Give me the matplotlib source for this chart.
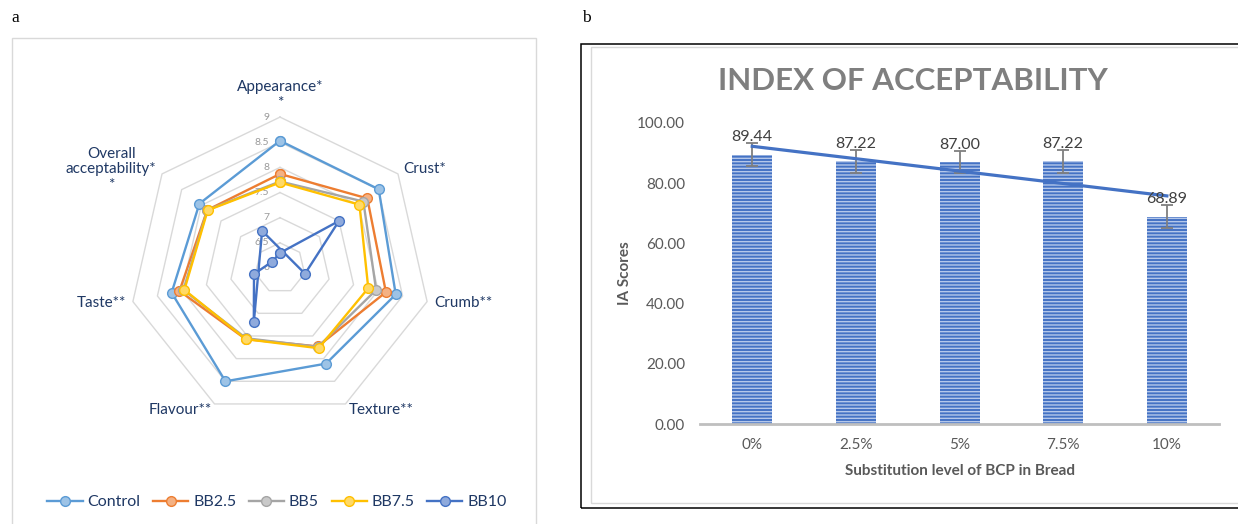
import numpy as np
import matplotlib
matplotlib.use("Agg")
import matplotlib.pyplot as plt
from matplotlib.patches import Rectangle
from matplotlib.colors import to_rgb

plt.rcParams["font.family"] = ["Lato", "DejaVu Sans"]
plt.rcParams["hatch.linewidth"] = 1.0

# ── Sensory scores (radar, panel a) ────────────────────────────────────────────
attributes = ["Appearance*\n*", "Crust*", "Crumb**", "Texture**",
              "Flavour**", "Taste**", "Overall\nacceptability*\n*"]
control = [8.53, 8.51, 8.36, 8.11, 8.50, 8.21, 8.05]
bb2_5   = [7.87, 8.22, 8.16, 7.73, 7.57, 8.05, 7.85]
bb5     = [7.72, 8.12, 7.96, 7.74, 7.55, 7.97, 7.85]
bb7_5   = [7.70, 8.02, 7.80, 7.77, 7.57, 7.95, 7.84]
bb10    = [6.30, 7.50, 6.51, 5.18, 7.20, 6.53, 6.20]
series_names  = ["Control", "BB2.5", "BB5", "BB7.5", "BB10"]
series_colors = ["#5B9BD5", "#ED7D31", "#A5A5A5", "#FFC000", "#4472C4"]
ring_ticks = [6, 6.5, 7, 7.5, 8, 8.5, 9]

# ── Index of acceptability (bars, panel b) ─────────────────────────────────────
levels    = ["0%", "2.5%", "5%", "7.5%", "10%"]
ia_scores = [89.44, 87.22, 87.00, 87.22, 68.89]
ia_err    = [3.8, 3.8, 3.7, 3.8, 3.8]

# ── Layout helpers (pixel -> figure fraction) ─────────────────────────────────
W, H, DPI = 1238, 524, 100
def fx(px): return px / W
def fy(py): return 1 - py / H

fig = plt.figure(figsize=(W / DPI, H / DPI), dpi=DPI)

NAVY = "#1F3864"
R_MIN = ring_ticks[0]
S = 50.3                      # px per score unit on the radar
CX, CY = 280, 268             # radar centre in px


def lighten(c, amt=0.4):
    r, g, b = to_rgb(c)
    return (r + (1 - r) * amt, g + (1 - g) * amt, b + (1 - b) * amt)


# ── Panel a: radar drawn on plain axes (values below the minimum fold through) ─
x0, x1, y0, y1 = 20, 540, 40, 480
ax_r = fig.add_axes([fx(x0), fy(y1), (x1 - x0) / W, (y1 - y0) / H])
ax_r.set_xlim((x0 - CX) / S, (x1 - CX) / S)
ax_r.set_ylim((CY - y1) / S, (CY - y0) / S)
ax_r.axis("off")

n = len(attributes)
theta = 2 * np.pi * np.arange(n) / n
sin_t, cos_t = np.sin(theta), np.cos(theta)

for t in ring_ticks[1:]:
    r = t - R_MIN
    ax_r.plot(np.append(r * sin_t, r * sin_t[0]), np.append(r * cos_t, r * cos_t[0]),
              color="#D9D9D9", lw=1.0, zorder=1)
for t in ring_ticks:
    ax_r.text(-11 / S, t - R_MIN, f"{t:g}", ha="right", va="center",
              fontsize=7.5, color="#9A9A9A", zorder=2)

for vals, name, col in zip([control, bb2_5, bb5, bb7_5, bb10], series_names, series_colors):
    r = np.array(vals) - R_MIN
    xs, ys = r * sin_t, r * cos_t
    ax_r.plot(np.append(xs, xs[0]), np.append(ys, ys[0]), color=col, lw=1.7,
              marker="o", ms=7, mfc=lighten(col), mec=col, mew=1.0,
              label=name, zorder=3)

lab_r = 158 / S
for lab, s, c in zip(attributes, sin_t, cos_t):
    if abs(s) < 0.1:
        ha, va = "center", "bottom"
    else:
        ha, va = ("left" if s > 0 else "right"), "center"
    ax_r.text(lab_r * s, lab_r * c, lab, ha=ha, va=va, multialignment="center",
              fontsize=11, color=NAVY, linespacing=1.15)

ax_r.legend(loc="center", bbox_to_anchor=(fx(277), fy(502)), bbox_transform=fig.transFigure,
            ncol=5, frameon=False, fontsize=11.5, handlelength=2.2, handletextpad=0.3,
            columnspacing=0.8, labelcolor=NAVY)

# ── Panel b: bars + error bars + linear trend ──────────────────────────────────
bx0, bx1, by0, by1 = 700.4, 1218.7, 122.7, 424.3
ax_b = fig.add_axes([fx(bx0), fy(by1), (bx1 - bx0) / W, (by1 - by0) / H])
idx = np.arange(len(levels))

ax_b.bar(idx, ia_scores, width=0.385, color="#4472C4", edgecolor="#B4C7EA",
         hatch="-----", linewidth=0, zorder=2)
ax_b.errorbar(idx, ia_scores, yerr=ia_err, fmt="none", ecolor="#7F7F7F",
              elinewidth=1.3, capsize=4, capthick=1.3, zorder=3)

coef = np.polyfit(idx + 1, ia_scores, 1)
ax_b.plot(idx, np.polyval(coef, idx + 1), color="#4472C4", lw=2.3, zorder=4)

for xi, v in zip(idx, ia_scores):
    ax_b.annotate(f"{v:.2f}", (xi, v), xytext=(0, 12.4), textcoords="offset points",
                  ha="center", va="center", fontsize=11.5, color="#404040", zorder=5)

ax_b.set_xlim(-0.5, len(levels) - 0.5)
ax_b.set_ylim(0, 100)
ax_b.set_yticks(np.arange(0, 101, 20))
ax_b.yaxis.set_major_formatter(plt.FuncFormatter(lambda v, _: f"{v:.2f}"))
ax_b.set_xticks(idx)
ax_b.set_xticklabels(levels)
ax_b.tick_params(axis="y", length=0, pad=11, labelsize=11, labelcolor="#595959")
ax_b.tick_params(axis="x", length=0, pad=10, labelsize=11, labelcolor="#595959")
for side in ["top", "right", "left"]:
    ax_b.spines[side].set_visible(False)
ax_b.spines["bottom"].set_color("#BFBFBF")
ax_b.spines["bottom"].set_linewidth(2)
ax_b.patch.set_alpha(0)

ax_b.set_xlabel("Substitution level of BCP in Bread", fontsize=11, fontweight="bold",
                color="#595959", va="center")
ax_b.xaxis.set_label_coords(0.5, (by1 - 470.7) / (by1 - by0))
ax_b.set_ylabel("IA Scores", fontsize=11, fontweight="bold", color="#595959", va="center")
ax_b.yaxis.set_label_coords((625 - bx0) / (bx1 - bx0), 0.5)

fig.text(fx(913), fy(81), "INDEX OF ACCEPTABILITY", ha="center", va="center",
         fontsize=22.5, fontweight="bold", color="#7F7F7F")

# ── Frames and panel letters ───────────────────────────────────────────────────
fig.patches.append(Rectangle((fx(12), fy(530)), (536 - 12) / W, (530 - 38) / H,
                             transform=fig.transFigure, fill=False, ec="#D9D9D9", lw=1.0))
fig.patches.append(Rectangle((fx(590.5), fy(503)), (1250 - 590.5) / W, (503 - 46.5) / H,
                             transform=fig.transFigure, fill=False, ec="#D9D9D9", lw=1.0))
fig.patches.append(Rectangle((fx(580.5), fy(507.5)), (1250 - 580.5) / W, (507.5 - 43.5) / H,
                             transform=fig.transFigure, fill=False, ec="black", lw=1.1))

fig.text(fx(15.7), fy(18), "a", ha="center", va="center", fontsize=12.5,
         family="Liberation Serif")
fig.text(fx(586), fy(18), "b", ha="center", va="center", fontsize=12.5,
         family="Liberation Serif")

fig.savefig("out.png", dpi=DPI)
